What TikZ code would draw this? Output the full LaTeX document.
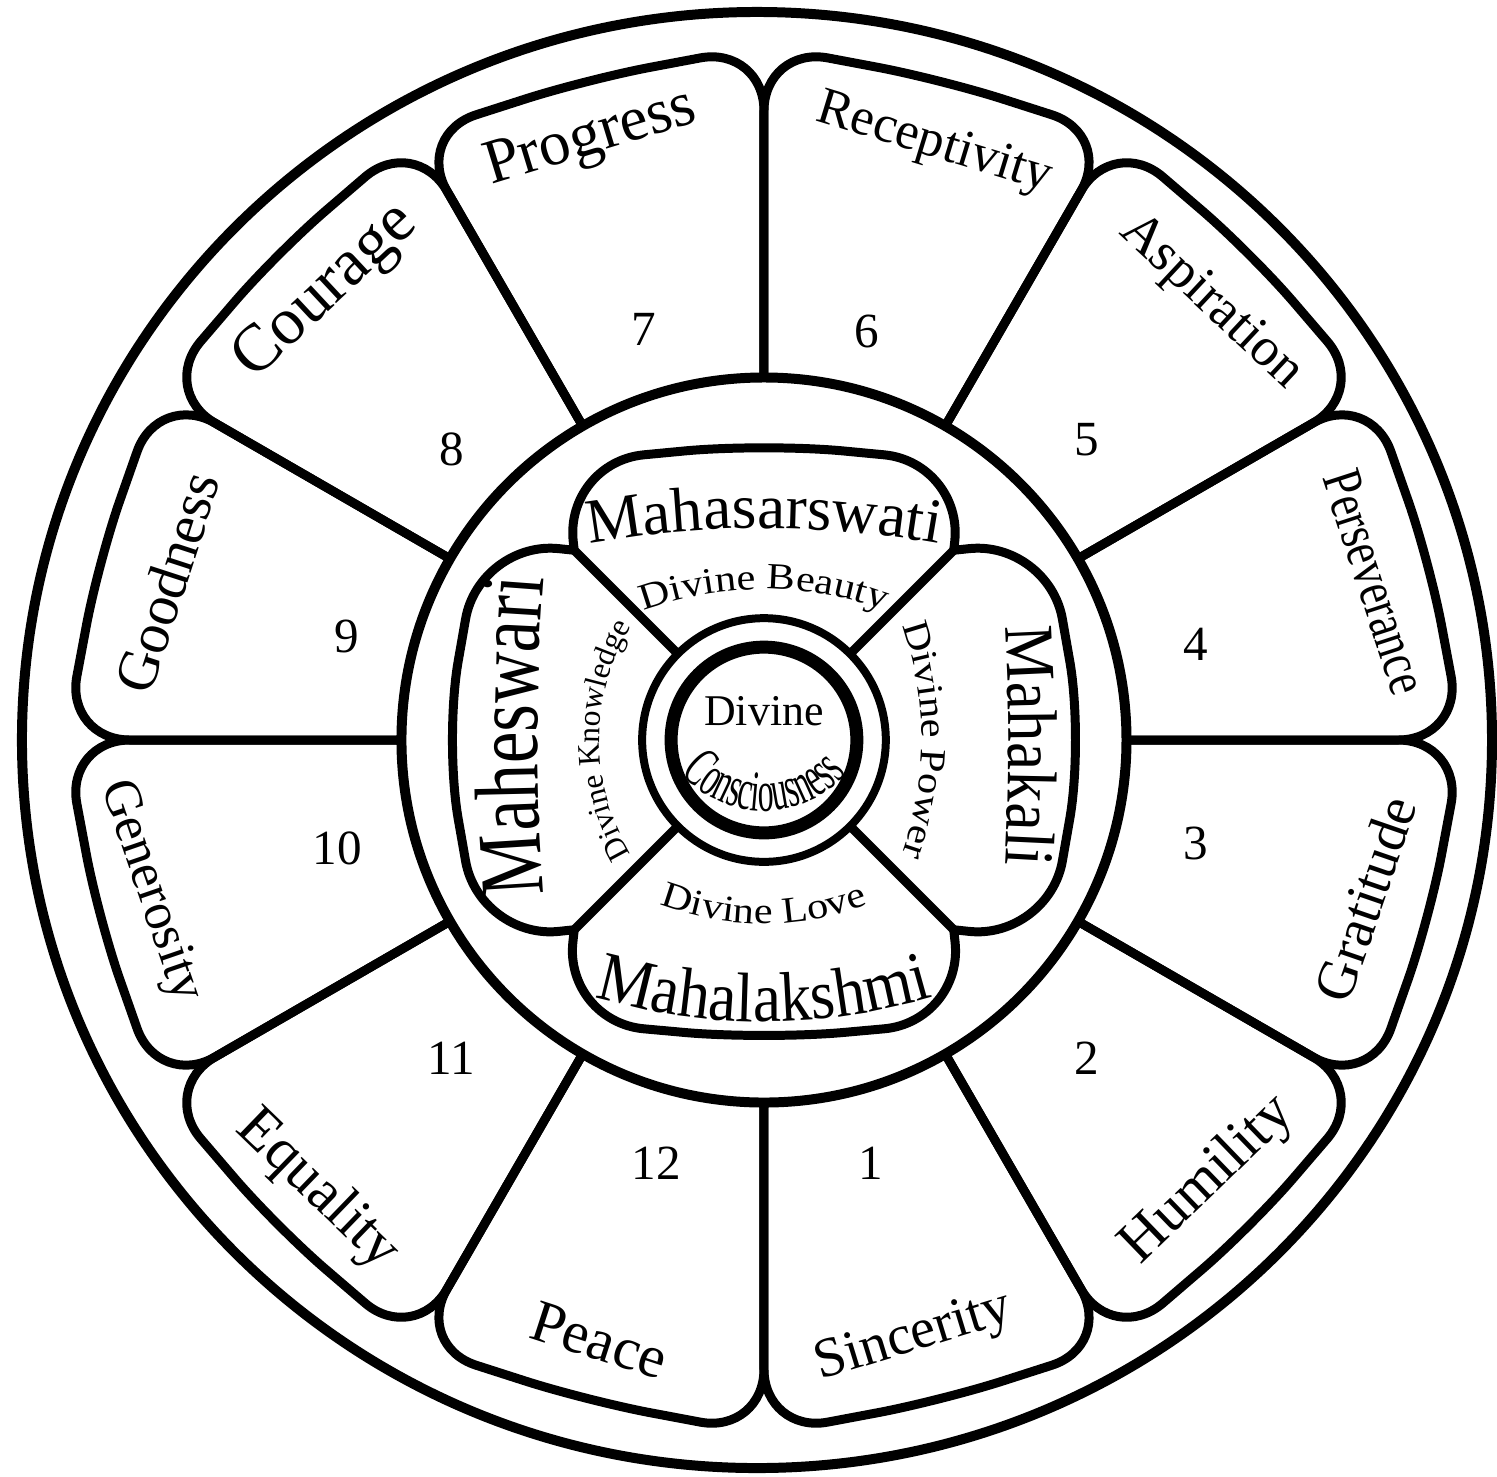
\documentclass[tikz,border=0pt]{standalone}
\usepackage{fontspec}
\setmainfont{Liberation Serif}
\newfontfamily\narrowserif[FakeStretch=0.78]{Liberation Serif}
\newfontfamily\slimserif[FakeStretch=0.9]{Liberation Serif}
\newfontfamily\thinserif[FakeStretch=0.55]{Liberation Serif}
\newfontfamily\wideserif[FakeStretch=1.15]{Liberation Serif}
\usetikzlibrary{decorations.text}

\tikzset{
  rim/.style={line width=1mm},
  petal/.style={line width=0.9mm, rounded corners=6.5mm},
  bud/.style={line width=0.9mm, rounded corners=8mm},
  virtue/.style={inner sep=0pt, font=\fontsize{#1}{#1}\selectfont},
  num/.style={inner sep=0pt, font=\fontsize{14}{14}\selectfont},
  arctext/.style={decorate, decoration={text along path, text align=center, text={#1}}}
}

\begin{document}
\begin{tikzpicture}
				\fill[white] (-7.65,-7.37) rectangle (7.32,7.41);
				
				\draw[rim] (-0.07,0) ellipse (7.36 and 7.29);
				\draw[rim] (0,0) circle (3.63);
				
				% twelve outer petals
				\draw[petal] (0:3.63) -- (0:7.0) -- (15:6.9) -- (30:7.0) -- (30:3.63);
				\draw[petal] (30:3.63) -- (30:7.0) -- (45:6.9) -- (60:7.0) -- (60:3.63);
				\draw[petal] (60:3.63) -- (60:7.0) -- (75:6.85) -- (90:6.95) -- (90:3.63);
				\draw[petal] (90:3.63) -- (90:6.95) -- (105:6.85) -- (120:7.0) -- (120:3.63);
				\draw[petal] (120:3.63) -- (120:7.0) -- (135:6.9) -- (150:7.0) -- (150:3.63);
				\draw[petal] (150:3.63) -- (150:7.0) -- (165:6.9) -- (180:7.0) -- (180:3.63);
				\draw[petal] (180:3.63) -- (180:7.0) -- (195:6.9) -- (210:7.0) -- (210:3.63);
				\draw[petal] (210:3.63) -- (210:7.0) -- (225:6.9) -- (240:7.0) -- (240:3.63);
				\draw[petal] (240:3.63) -- (240:7.0) -- (255:6.85) -- (270:6.95) -- (270:3.63);
				\draw[petal] (270:3.63) -- (270:6.95) -- (285:6.85) -- (300:7.0) -- (300:3.63);
				\draw[petal] (300:3.63) -- (300:7.0) -- (315:6.9) -- (330:7.0) -- (330:3.63);
				\draw[petal] (330:3.63) -- (330:7.0) -- (345:6.9) -- (360:7.0) -- (360:3.63);
				
				\node[virtue=16, rotate=17] (sincerity) at (1.50,-5.99) {Sincerity};
				\node[virtue=17, rotate=44] (humility) at (4.45,-4.41) {Humility};
				\node[virtue=16, rotate=71] (gratitude) at (6.02,-1.59) {Gratitude};
				\node[virtue=16, rotate=-72] (perseverance) at (6.12,1.58) {\narrowserif Perseverance};
				\node[virtue=15.5, rotate=-43] (aspiration) at (4.47,4.38) {Aspiration};
				\node[virtue=15, rotate=-17] (receptivity) at (1.70,5.96) {Receptivity};
				\node[virtue=18, rotate=17] (progress) at (-1.73,6.01) {Progress};
				\node[virtue=19, rotate=43] (courage) at (-4.38,4.48) {Courage};
				\node[virtue=16.5, rotate=72] (goodness) at (-5.98,1.58) {Goodness};
				\node[virtue=15, rotate=-71] (generosity) at (-6.15,-1.52) {Generosity};
				\node[virtue=17, rotate=-44] (equality) at (-4.47,-4.51) {Equality};
				\node[virtue=17, rotate=-18] (peace) at (-1.65,-6.01) {Peace};
				
				\node[num] (n1) at (1.07,-4.24) {1};
				\node[num] (n2) at (3.23,-3.19) {2};
				\node[num] (n3) at (4.32,-1.04) {3};
				\node[num] (n4) at (4.32,0.96) {4};
				\node[num] (n5) at (3.23,3.01) {5};
				\node[num] (n6) at (1.03,4.09) {6};
				\node[num] (n7) at (-1.20,4.11) {7};
				\node[num] (n8) at (-3.13,2.91) {8};
				\node[num] (n9) at (-4.18,1.04) {9};
				\node[num] (n10) at (-4.27,-1.09) {10};
				\node[num] (n11) at (-3.13,-3.19) {11};
				\node[num] (n12) at (-1.08,-4.24) {12};
				
				% four inner petals
				\draw[line width=0.9mm] (45:1.22) -- (45:2.69);
				\draw[line width=0.9mm] (135:1.22) -- (135:2.69);
				\draw[line width=0.9mm] (225:1.22) -- (225:2.69);
				\draw[line width=0.9mm] (315:1.22) -- (315:2.69);
				\draw[bud] (-1.90,1.90) -- (-2.0,2.78) -- (0,2.97) -- (2.0,2.78) -- (1.90,1.90);
				\draw[bud] (-1.90,-1.90) -- (-2.0,-2.82) -- (0,-3.0) -- (2.0,-2.82) -- (1.90,-1.90);
				\draw[bud] (-1.90,1.90) -- (-2.85,2.0) -- (-3.2,0) -- (-2.85,-2.0) -- (-1.90,-1.90);
				\draw[bud] (1.90,1.90) -- (2.85,2.0) -- (3.2,0) -- (2.85,-2.0) -- (1.90,-1.90);
				
				\path[arctext={|\fontsize{18}{18}\selectfont|Mahasarswati}, shift={(0,-7.88)}] (103:10) arc[start angle=103, end angle=77, radius=10];
				\path[arctext={|\slimserif\fontsize{20}{20}\selectfont|Mahalakshmi}, shift={(0,3.18)}] (250:6) arc[start angle=250, end angle=290, radius=6];
				\path[arctext={|\narrowserif\fontsize{26}{26}\selectfont|Maheswari}, shift={(17.73,0.04)}] (186:20) arc[start angle=186, end angle=174, radius=20];
				\path[arctext={|\slimserif\fontsize{20}{20}\selectfont|Mahakali}, shift={(-17.55,-0.06)}] (6:20) arc[start angle=6, end angle=-6, radius=20];
				
				\path[arctext={|\wideserif\fontsize{10.5}{10.5}\selectfont|Divine Beauty}, shift={(0,-1.99)}] (116:3.5) arc[start angle=116, end angle=64, radius=3.5];
				\path[arctext={|\wideserif\fontsize{10.5}{10.5}\selectfont|Divine Power}, shift={(-1.87,0)}] (26:3.45) arc[start angle=26, end angle=-26, radius=3.45];
				\path[arctext={|\fontsize{9}{9}\selectfont|Divine Knowledge}, shift={(0.55,0)}] (218:2.2) arc[start angle=218, end angle=142, radius=2.2];
				\path[arctext={|\wideserif\fontsize{10.5}{10.5}\selectfont|Divine Love}, shift={(0,1.06)}] (244:2.9) arc[start angle=244, end angle=296, radius=2.9];
				
				% centre
				\draw[line width=0.8mm] (0,0) circle (1.22);
				\draw[line width=1.3mm] (0,0) circle (0.93);
				\node[font=\fontsize{12.5}{12.5}\selectfont, inner sep=0pt] (divine) at (0,0.29) {Divine};
				\path[arctext={|\thinserif\fontsize{16.5}{16.5}\selectfont|Consciousness}, shift={(0,0.39)}] (210:1.1) arc[start angle=210, end angle=330, radius=1.1];
			\end{tikzpicture}
\end{document}
